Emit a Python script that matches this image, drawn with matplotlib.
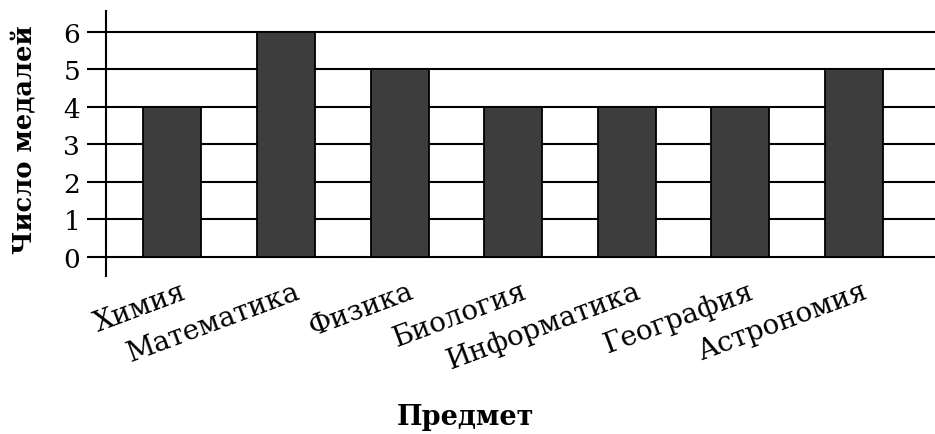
import matplotlib.pyplot as plt
import numpy as np

subjects = ['Химия', 'Математика', 'Физика', 'Биология', 'Информатика', 'География', 'Астрономия']
medals = [4, 6, 5, 4, 4, 4, 5]
y_ticks = [0, 1, 2, 3, 4, 5, 6]

plt.rcParams['font.family'] = ['DejaVu Serif']

fig = plt.figure(figsize=(9.35, 4.35), dpi=100)
ax = fig.add_axes([106/935, 158/435, 1 - 106/935, (423 - 158)/435])

x = np.arange(len(subjects))
ax.set_axisbelow(True)
for y in y_ticks:
    ax.axhline(y, color='black', linewidth=1.5, zorder=0)
ax.bar(x, medals, width=0.51, color='#3d3d3d', edgecolor='black', linewidth=1.3, zorder=2)

ax.set_xlim(-0.585, 6.713)
ax.set_ylim(-0.507, 6.56)
ax.set_yticks(y_ticks)
ax.set_yticklabels([str(v) for v in y_ticks], fontsize=19)
ax.tick_params(axis='y', length=13.5, width=1.5, pad=5)

ax.set_xticks(x + 0.07)
ax.set_xticklabels(subjects, rotation=20.5, ha='right', rotation_mode='anchor', fontsize=20)
ax.tick_params(axis='x', length=0, pad=1)

for side in ['top', 'right', 'bottom']:
    ax.spines[side].set_visible(False)
ax.spines['left'].set_linewidth(1.5)

fig.text(25/935, 1 - 140/435, 'Число медалей', rotation=90, ha='center', va='center',
         fontsize=18.5, fontweight='bold')
fig.text(465/935, 1 - 418/435, 'Предмет', ha='center', va='center',
         fontsize=19.5, fontweight='bold')

fig.savefig('out.png', dpi=100)
